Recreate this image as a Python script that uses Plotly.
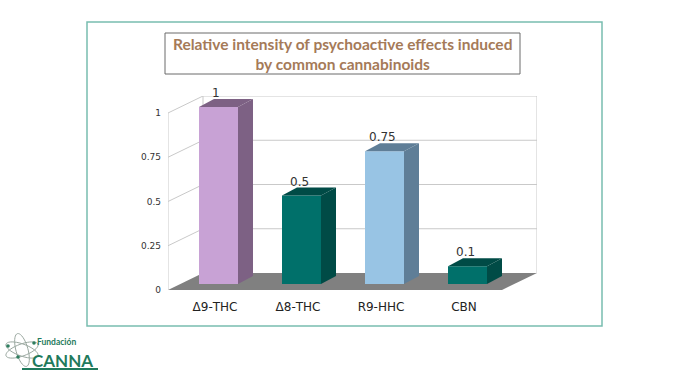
import math
import plotly.graph_objects as go

# ---- data ----
categories = ["\u03949-THC", "\u03948-THC", "R9-HHC", "CBN"]
values = [1, 0.5, 0.75, 0.1]
value_labels = ["1", "0.5", "0.75", "0.1"]
front_colors = ["#C8A2D5", "#00706A", "#98C4E4", "#00706A"]
side_colors = ["#7D6184", "#004B46", "#5F7E97", "#004B46"]
y_ticks = [0, 0.25, 0.5, 0.75, 1]
y_ticktext = ["0", "0.25", "0.5", "0.75", "1"]
title_lines = ["Relative intensity of psychoactive effects induced", "by common cannabinoids"]

W, H = 700, 380
L, R, T, B = 168, 537, 96, 290  # plot area in pixels
PXX = 83.0   # px per x unit
PXY = 177.0  # px per y unit
xl = -(215 - L) / PXX
xr = xl + (R - L) / PXX
ytop = (B - T) / PXY
DX, DY = 35 / PXX, 17 / PXY       # wall depth in data units
BDX, BDY = 15 / PXX, 8 / PXY      # bar depth
BW = 39 / PXX                     # bar width
BX = 3.5 / PXX                    # bar x shift
B0 = 6 / PXY                      # bar base


def px2paper(x, y):
    return (x - L) / (R - L), (B - y) / (B - T)


fig = go.Figure()

xs = [i + BX for i in range(len(categories))]
fig.add_trace(go.Bar(x=xs, y=values, base=[B0] * len(values), width=BW,
                     marker=dict(color=front_colors, line=dict(width=0)),
                     hoverinfo="skip", showlegend=False))

for i, v in enumerate(values):
    xc = xs[i]
    x1 = xc + BW / 2
    x0 = xc - BW / 2
    top = B0 + v
    fig.add_trace(go.Scatter(
        x=[x1, x1 + BDX, x1 + BDX, x1, x1],
        y=[B0, B0 + BDY, top + BDY, top, B0],
        fill="toself", fillcolor=side_colors[i], mode="lines",
        line=dict(width=0, color=side_colors[i]), hoverinfo="skip", showlegend=False))
    fig.add_trace(go.Scatter(
        x=[x0, x1, x1 + BDX, x0 + BDX, x0],
        y=[top, top, top + BDY, top + BDY, top],
        fill="toself", fillcolor=side_colors[i], mode="lines",
        line=dict(width=0, color=side_colors[i]), hoverinfo="skip", showlegend=False))

shapes = []
grid = dict(color="#C9C9C9", width=1)
shapes.append(dict(type="path", xref="x", yref="y", layer="below",
                   path=f"M {xl},0 L {xr-DX},0 L {xr},{DY} L {xl+DX},{DY} Z",
                   fillcolor="#808080", line=dict(width=0)))
for t in y_ticks:
    if t > 0:
        shapes.append(dict(type="line", xref="x", yref="y", layer="below",
                           x0=xl + DX, x1=xr, y0=t + DY, y1=t + DY, line=grid))
        shapes.append(dict(type="line", xref="x", yref="y", layer="below",
                           x0=xl, x1=xl + DX, y0=t, y1=t + DY, line=grid))
shapes.append(dict(type="line", xref="x", yref="y", layer="below",
                   x0=xl, x1=xl, y0=0, y1=1, line=grid))
shapes.append(dict(type="line", xref="x", yref="y", layer="below",
                   x0=xl + DX, x1=xl + DX, y0=DY, y1=1 + DY, line=grid))
shapes.append(dict(type="line", xref="x", yref="y", layer="below",
                   x0=xr, x1=xr, y0=DY, y1=1 + DY, line=grid))

fx0, fy0 = px2paper(87, 326)
fx1, fy1 = px2paper(602, 22)
shapes.append(dict(type="rect", xref="paper", yref="paper", x0=fx0, y0=fy0, x1=fx1, y1=fy1,
                   line=dict(color="#78BDB0", width=1.5), layer="below"))
tx0, ty0 = px2paper(165, 74)
tx1, ty1 = px2paper(520, 33)
shapes.append(dict(type="rect", xref="paper", yref="paper", x0=tx0, y0=ty0, x1=tx1, y1=ty1,
                   line=dict(color="#6B6B6B", width=1), fillcolor="white", layer="below"))


def ellipse_path(cx, cy, a, b, ang):
    pts = []
    for k in range(41):
        t = 2 * math.pi * k / 40
        ex, ey = a * math.cos(t), b * math.sin(t)
        x = cx + ex * math.cos(ang) - ey * math.sin(ang)
        y = cy + ex * math.sin(ang) + ey * math.cos(ang)
        px, py = px2paper(x, y)
        pts.append(f"{px:.5f},{py:.5f}")
    return "M " + " L ".join(pts) + " Z"


for ang in [0.35, -0.35, 1.3]:
    shapes.append(dict(type="path", xref="paper", yref="paper",
                       path=ellipse_path(22, 350, 17, 6, ang),
                       line=dict(color="#9AA8A0", width=1)))
for (cx, cy) in [(8, 346), (34, 343), (18, 357)]:
    ax0, ay0 = px2paper(cx - 1.8, cy + 1.8)
    ax1, ay1 = px2paper(cx + 1.8, cy - 1.8)
    shapes.append(dict(type="circle", xref="paper", yref="paper", x0=ax0, y0=ay0, x1=ax1, y1=ay1,
                       fillcolor="#2E7D5E", line=dict(width=0)))
ux0, uy = px2paper(22, 369)
ux1, _ = px2paper(98, 369)
shapes.append(dict(type="line", xref="paper", yref="paper", x0=ux0, x1=ux1, y0=uy, y1=uy,
                   line=dict(color="#1F7A5C", width=2)))

annotations = []
for i, v in enumerate(values):
    annotations.append(dict(x=xs[i] - 0.03, y=B0 + v + BDY, xref="x", yref="y",
                            text=value_labels[i], showarrow=False, yanchor="bottom",
                            xanchor="center", yshift=-3,
                            font=dict(family="DejaVu Sans", size=12, color="#333333")))

tpx, tpy = px2paper(342, 54)
annotations.append(dict(x=tpx, y=tpy, xref="paper", yref="paper", showarrow=False,
                        xanchor="center", yanchor="middle", align="center",
                        text="<b>" + "<br>".join(title_lines) + "</b>",
                        font=dict(family="Lato", size=15.5, color="#A57A58")))
lx, ly = px2paper(57, 342)
annotations.append(dict(x=lx, y=ly, xref="paper", yref="paper", showarrow=False,
                        xanchor="center", yanchor="middle",
                        text="<b>Fundación</b>", font=dict(family="Lato", size=8.5, color="#1F7A5C")))
lx, ly = px2paper(62, 360)
annotations.append(dict(x=lx, y=ly, xref="paper", yref="paper", showarrow=False,
                        xanchor="center", yanchor="middle",
                        text="<b>CANNA</b>", font=dict(family="Lato", size=17, color="#1F7A5C")))

fig.update_layout(
    width=W, height=H,
    margin=dict(l=L, r=W - R, t=T, b=H - B, pad=0),
    paper_bgcolor="white", plot_bgcolor="white",
    shapes=shapes, annotations=annotations,
    showlegend=False,
    xaxis=dict(range=[xl, xr], tickvals=list(range(len(categories))), ticktext=categories,
               showgrid=False, zeroline=False, showline=False, ticks="",
               ticklabelstandoff=8,
               tickfont=dict(family="DejaVu Sans", size=12, color="#222222"),
               fixedrange=True),
    yaxis=dict(range=[0, ytop], tickvals=y_ticks, ticktext=y_ticktext,
               showgrid=False, zeroline=False, showline=False, ticks="",
               ticklabelstandoff=6,
               tickfont=dict(family="DejaVu Sans", size=9, color="#333333"),
               fixedrange=True),
)

fig.write_html("out.html", config={"displayModeBar": False},
               post_script="document.body.style.margin='0px';document.body.style.overflow='hidden';")
